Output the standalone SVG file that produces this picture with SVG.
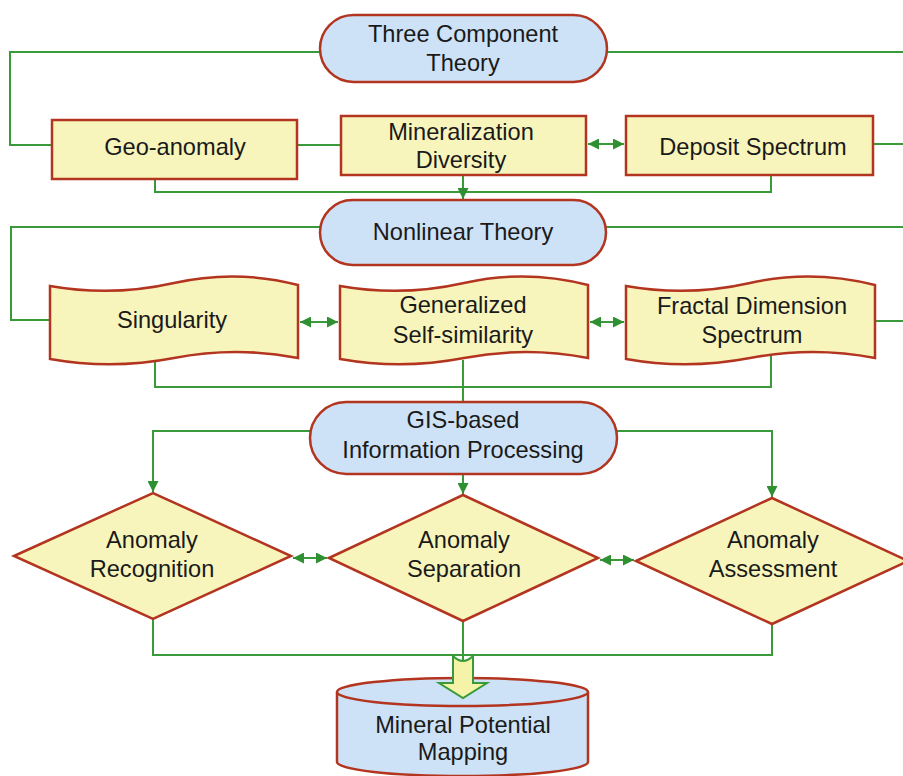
<svg xmlns="http://www.w3.org/2000/svg" width="903" height="776" viewBox="0 0 903 776">
<style>
.t{font-family:"Liberation Sans",Arial,sans-serif;font-size:23.6px;fill:#1a1a1a;text-anchor:middle}
.y{fill:#f8f5bc;stroke:#b3341f;stroke-width:2.5}
.b{fill:#cde2f6;stroke:#b3341f;stroke-width:2.5}
.c{fill:none;stroke:#3a9a3a;stroke-width:2}
</style>
<defs>
<marker id="a2" viewBox="0 0 10 10" refX="10" refY="5" markerWidth="12" markerHeight="11" orient="auto-start-reverse" markerUnits="userSpaceOnUse">
<path d="M0,0 L10,5 L0,10 Z" fill="#2e9030"/>
</marker>
</defs>
<rect width="903" height="776" fill="#ffffff"/>
<g id="connectors">
<polyline class="c" points="320,52 10,52 10,145 52,145"/>
<line class="c" x1="607" y1="52" x2="903" y2="52"/>
<line class="c" x1="297" y1="145" x2="341" y2="145"/>
<line class="c" x1="873" y1="144" x2="903" y2="144"/>
<line class="c" x1="588" y1="144" x2="624" y2="144" marker-start="url(#a2)" marker-end="url(#a2)"/>
<polyline class="c" points="155,179 155,192 771,192 771,175"/>
<line class="c" x1="463" y1="175" x2="463" y2="199" marker-end="url(#a2)"/>
<polyline class="c" points="320,227 11,227 11,320 50,320"/>
<line class="c" x1="606" y1="227" x2="903" y2="227"/>
<line class="c" x1="875" y1="321" x2="903" y2="321"/>
<line class="c" x1="300" y1="322" x2="338" y2="322" marker-start="url(#a2)" marker-end="url(#a2)"/>
<line class="c" x1="590" y1="322" x2="624" y2="322" marker-start="url(#a2)" marker-end="url(#a2)"/>
<polyline class="c" points="155,360 155,387 771,387 771,352"/>
<line class="c" x1="463" y1="360" x2="463" y2="402"/>
<polyline class="c" points="310,431 153,431 153,492" marker-end="url(#a2)"/>
<polyline class="c" points="617,431 772,431 772,497" marker-end="url(#a2)"/>
<line class="c" x1="463" y1="474" x2="463" y2="494" marker-end="url(#a2)"/>
<line class="c" x1="293" y1="558" x2="327" y2="558" marker-start="url(#a2)" marker-end="url(#a2)"/>
<line class="c" x1="600" y1="560" x2="634" y2="560" marker-start="url(#a2)" marker-end="url(#a2)"/>
<polyline class="c" points="153,619 153,655 772,655 772,624"/>
<line class="c" x1="463" y1="621" x2="463" y2="660"/>
</g>
<g id="n-three">
<rect class="b" x="320" y="15" width="287" height="67" rx="33.5"/>
<text class="t" x="463" y="42">Three Component</text>
<text class="t" x="463" y="71">Theory</text>
</g>
<g id="n-geo">
<rect class="y" x="52" y="120" width="245" height="59"/>
<text class="t" x="175" y="155">Geo-anomaly</text>
</g>
<g id="n-mindiv">
<rect class="y" x="341" y="116" width="245" height="59"/>
<text class="t" x="461" y="140">Mineralization</text>
<text class="t" x="461" y="168">Diversity</text>
</g>
<g id="n-deposit">
<rect class="y" x="626" y="116" width="247" height="59"/>
<text class="t" x="753" y="155">Deposit Spectrum</text>
</g>
<g id="n-nonlinear">
<rect class="b" x="320" y="200" width="286" height="65" rx="32.5"/>
<text class="t" x="463" y="240">Nonlinear Theory</text>
</g>
<g id="n-singularity">
<path class="y" d="M50,286 Q112,297 174,283 T298,285 L298,358 Q236,346 174,358 T50,359 Z"/>
<text class="t" x="172" y="328">Singularity</text>
</g>
<g id="n-selfsim">
<path class="y" d="M340,286 Q402,297 464,283 T588,285 L588,358 Q526,346 464,358 T340,359 Z"/>
<text class="t" x="463" y="313">Generalized</text>
<text class="t" x="463" y="343">Self-similarity</text>
</g>
<g id="n-fractal">
<path class="y" d="M626,286 Q688,297 750,283 T875,285 L875,358 Q813,346 750,358 T626,359 Z"/>
<text class="t" x="752" y="314">Fractal Dimension</text>
<text class="t" x="752" y="343">Spectrum</text>
</g>
<g id="n-gis">
<rect class="b" x="310" y="402" width="307" height="72" rx="36"/>
<text class="t" x="463" y="428">GIS-based</text>
<text class="t" x="463" y="458">Information Processing</text>
</g>
<g id="n-recognition">
<polygon class="y" points="14,556 153,493 291,556 153,619"/>
<text class="t" x="152" y="548">Anomaly</text>
<text class="t" x="152" y="577">Recognition</text>
</g>
<g id="n-separation">
<polygon class="y" points="329,558 463,495 598,558 463,621"/>
<text class="t" x="464" y="548">Anomaly</text>
<text class="t" x="464" y="577">Separation</text>
</g>
<g id="n-assessment">
<polygon class="y" points="636,561 772,498 908,561 772,624"/>
<text class="t" x="773" y="548">Anomaly</text>
<text class="t" x="773" y="577">Assessment</text>
</g>
<g id="n-mapping">
<path class="b" d="M337,692 L337,762 A125.5,14 0 0 0 588,762 L588,692"/>
<ellipse class="b" cx="462.5" cy="692" rx="125.5" ry="14"/>
<text class="t" x="463" y="733">Mineral Potential</text>
<text class="t" x="463" y="760">Mapping</text>
</g>
<g id="block-arrow">
<path d="M453,656 Q463,666 473,656 L473,683 L487,683 L463,698 L439,683 L453,683 Z" fill="#f4f3a8" stroke="#3a9a3a" stroke-width="2" stroke-linejoin="miter"/>
</g>
</svg>
